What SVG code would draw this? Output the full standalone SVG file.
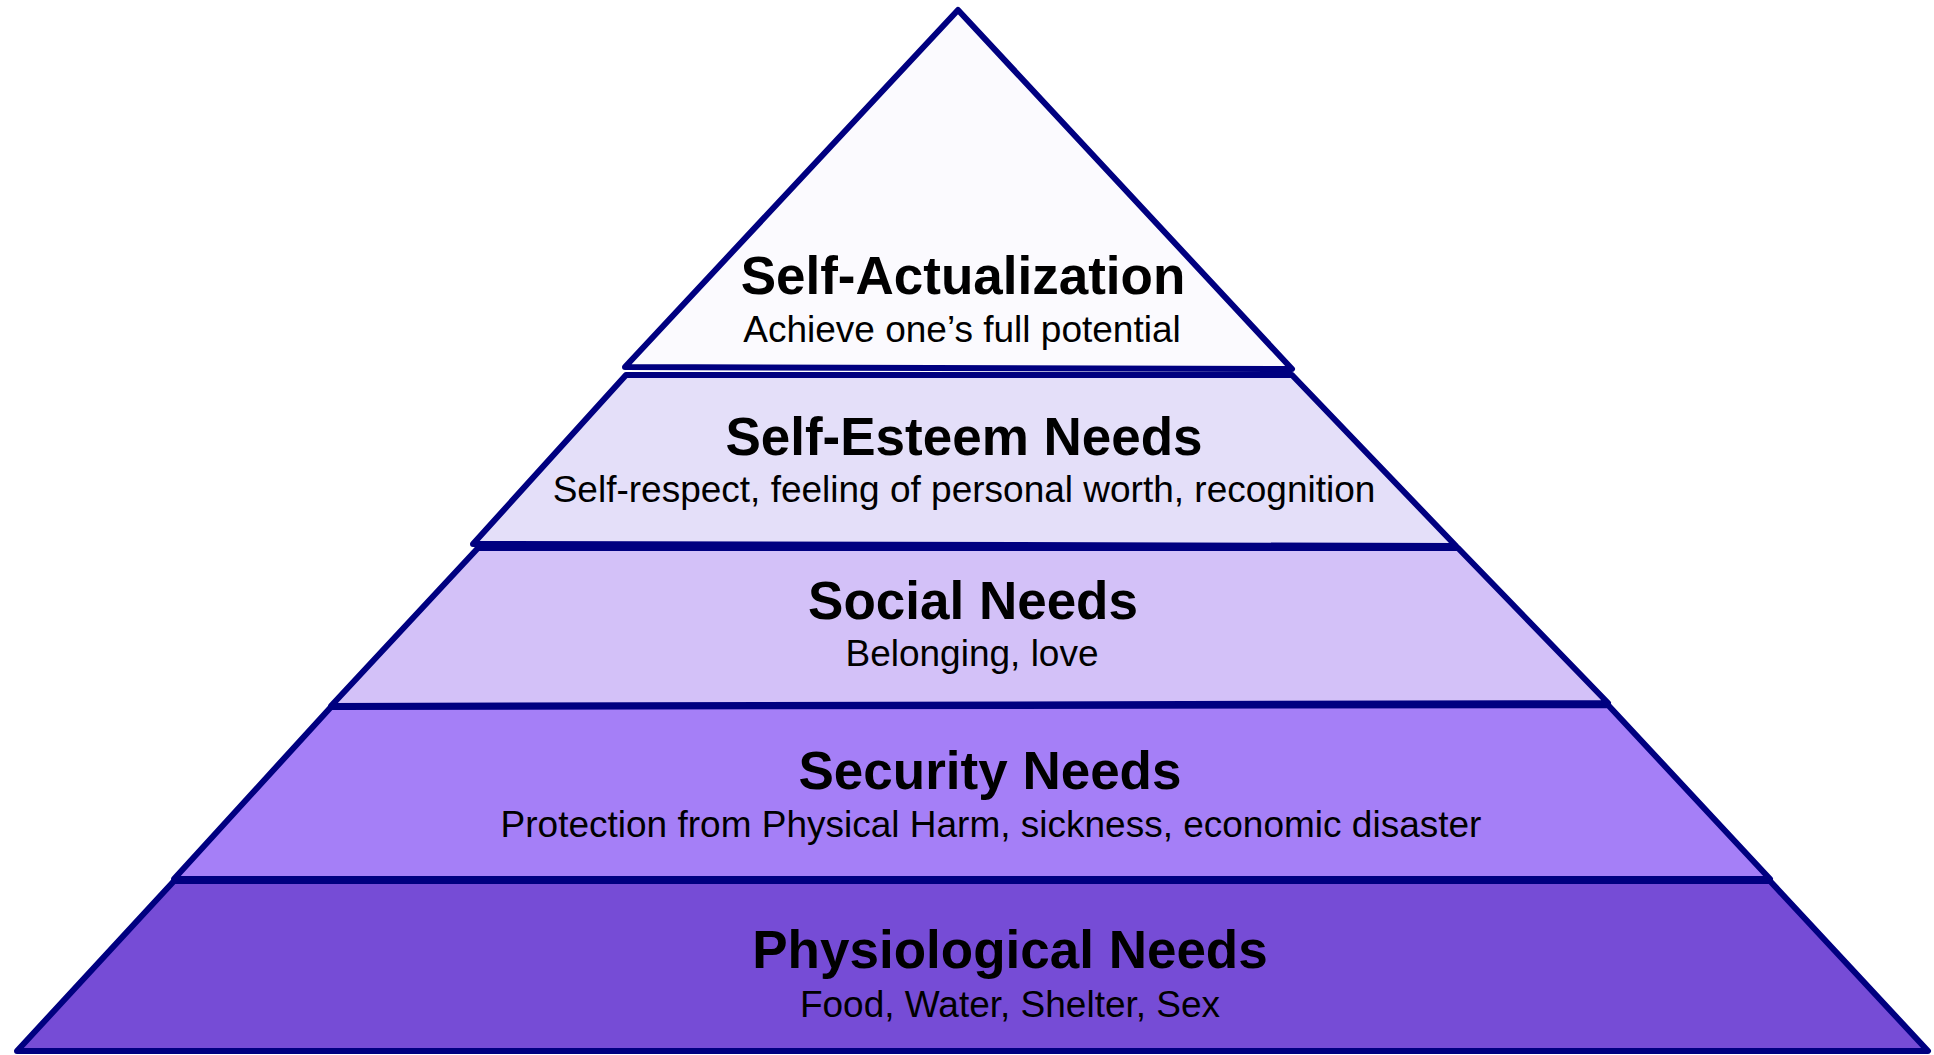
<svg xmlns="http://www.w3.org/2000/svg" width="1934" height="1055" viewBox="0 0 1934 1055">
<style>
.lvl{stroke:#000080;stroke-width:6;stroke-linejoin:round}
.t{font-family:"Liberation Sans",Arial,sans-serif;font-weight:bold;font-size:53px;fill:#000;text-anchor:middle}
.s{font-family:"Liberation Sans",Arial,sans-serif;font-size:37px;fill:#000;text-anchor:middle}
</style>
<rect width="1934" height="1055" fill="#ffffff"/>
<g id="physiological">
<polygon class="lvl" fill="#764CD6" points="174,881 1770,881 1928,1051 17,1051"/>
<text class="t" x="1010" y="968">Physiological Needs</text>
<text class="s" x="1010" y="1017">Food, Water, Shelter, Sex</text>
</g>
<g id="security">
<polygon class="lvl" fill="#A57FF7" points="331,707 1608,705 1770,879 174,879"/>
<text class="t" x="990" y="789">Security Needs</text>
<text class="s" x="991" y="837">Protection from Physical Harm, sickness, economic disaster</text>
</g>
<g id="social">
<polygon class="lvl" fill="#D3C1F8" points="478,548 1458,548 1608,703 331,706"/>
<text class="t" x="973" y="619">Social Needs</text>
<text class="s" x="972" y="666">Belonging, love</text>
</g>
<g id="self-esteem">
<polygon class="lvl" fill="#E4DFF9" points="626,375 1292,375 1456,546 473,544"/>
<text class="t" x="964" y="455">Self-Esteem Needs</text>
<text class="s" x="964" y="502">Self-respect, feeling of personal worth, recognition</text>
</g>
<g id="self-actualization">
<polygon class="lvl" fill="#FBFAFE" points="958,10 1292,369 625,367"/>
<text class="t" x="963" y="294">Self-Actualization</text>
<text class="s" x="962" y="342">Achieve one’s full potential</text>
</g>
<g id="connectors"></g>
</svg>
